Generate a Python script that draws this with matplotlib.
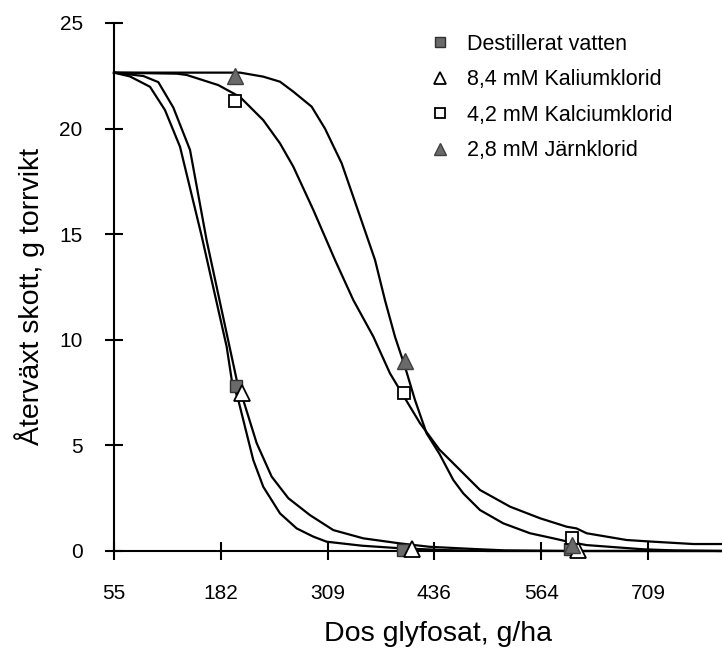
import matplotlib
matplotlib.use("Agg")
import matplotlib.pyplot as plt
from matplotlib.lines import Line2D
import numpy as np

plt.rcParams['font.family'] = ['Liberation Sans', 'DejaVu Sans']

# ---------------- data ----------------
x_tick_labels = ["55", "182", "309", "436", "564", "709"]
y_ticks = [0, 5, 10, 15, 20, 25]

series_names = ["Destillerat vatten", "8,4 mM Kaliumklorid",
                "4,2 mM Kalciumklorid", "2,8 mM Järnklorid"]

# observed points (dose g/ha, regrowth g)
dest_x = [200, 399, 597]
dest_y = [7.8, 0.05, 0.1]
kalium_x = [207, 409, 607]
kalium_y = [7.5, 0.1, 0.05]
kalcium_x = [199, 400, 600]
kalcium_y = [21.3, 7.5, 0.6]
jarn_x = [199, 401, 600]
jarn_y = [22.5, 9.0, 0.3]

# fitted curves
dest_cx = [55, 74, 97.8, 115.6, 133.5, 159.3, 189, 195, 202.8, 220.6, 232.5,
           252.4, 272.2, 292, 307.9, 350, 395, 450, 500, 778]
dest_cy = [22.65, 22.47, 21.98, 20.88, 19.14, 14.9, 9.67, 8.1, 7.15, 4.31, 3.04,
           1.78, 1.07, 0.68, 0.44, 0.25, 0.13, 0.04, 0.0, 0.0]

kalium_cx = [55, 89.9, 107.7, 125.5, 145.4, 165.2, 200.9, 208.7, 224.7, 242.5,
             262.3, 288, 315.8, 351.4, 395, 430, 480, 520, 600, 778]
kalium_cy = [22.65, 22.49, 22.2, 21.0, 18.99, 14.7, 8.1, 7.15, 5.1, 3.52,
             2.5, 1.7, 0.99, 0.6, 0.36, 0.2, 0.1, 0.03, 0.0, 0.0]

kalcium_cx = [55, 130, 141.4, 179, 204.8, 232.5, 252.4, 268.2, 292, 317.8, 339.6,
              363.4, 383.2, 401, 418.9, 442, 458.5, 490.2, 525.9, 561.6, 593.3,
              605, 617, 664.6, 696.3, 744, 778]
kalcium_cy = [22.65, 22.6, 22.54, 22.06, 21.5, 20.4, 19.3, 18.2, 16.15, 13.78, 11.88,
              10.15, 8.41, 7.23, 6.05, 4.8, 4.15, 2.89, 2.1, 1.55, 1.15,
              1.07, 0.84, 0.52, 0.44, 0.33, 0.33]

jarn_cx = [55, 205, 232.5, 252.4, 268.2, 290, 305.9, 325.7, 343.6, 365.4, 377.2,
           389.1, 401, 412.9, 426.7, 442, 458.5, 470.3, 490.2, 517.9, 549.7,
           577.4, 595, 617, 684.5, 720, 778]
jarn_cy = [22.65, 22.65, 22.46, 22.22, 21.75, 21.04, 20.0, 18.36, 16.3, 13.78, 11.88,
           10.15, 8.73, 7.15, 5.57, 4.6, 3.36, 2.73, 1.94, 1.31, 0.84,
           0.6, 0.44, 0.28, 0.08, 0.03, 0.0]

# ---------------- figure ----------------
W, H = 722, 648
fig = plt.figure(figsize=(W / 100, H / 100), dpi=100)
ax = fig.add_axes([114 / W, 1 - 551 / H, 1 - 114 / W, (551 - 23) / H])

lw = 1.6
for cx, cy in [(dest_cx, dest_cy), (kalium_cx, kalium_cy),
               (kalcium_cx, kalcium_cy), (jarn_cx, jarn_cy)]:
    ax.plot(cx, cy, color='black', lw=lw, clip_on=False, zorder=3)

gray = '#6a6a6a'
styles = [
    dict(marker='s', ms=9, mfc=gray, mec='#303030', mew=1.0),
    dict(marker='^', ms=11, mfc='white', mec='black', mew=1.3),
    dict(marker='s', ms=9, mfc='white', mec='black', mew=1.3),
    dict(marker='^', ms=11, mfc=gray, mec='#404040', mew=1.0),
]
pts = [(dest_x, dest_y), (kalium_x, kalium_y),
       (kalcium_x, kalcium_y), (jarn_x, jarn_y)]
for (px, py), st in zip(pts, styles):
    ax.plot(px, py, ls='none', clip_on=False, zorder=4, **st)

ax.set_xlim(55, 778)
ax.set_ylim(0, 25)

ax.set_xticks(55 + 127 * np.arange(len(x_tick_labels)))
ax.set_xticklabels(x_tick_labels)
ax.set_yticks(y_ticks)
ax.set_yticklabels([str(v) for v in y_ticks])

for s in ['top', 'right']:
    ax.spines[s].set_visible(False)
for s in ['left', 'bottom']:
    ax.spines[s].set_linewidth(1.5)

ax.tick_params(axis='both', direction='inout', length=13, width=1.5,
               labelsize=15, colors='black')
ax.tick_params(axis='y', pad=16)
ax.tick_params(axis='x', pad=17)

ax.set_xlabel("Dos glyfosat, g/ha", fontsize=20.5)
ax.set_ylabel("Återväxt skott, g torrvikt", fontsize=20.5)
ax.xaxis.set_label_coords((438 - 114) / 608, (551 - 621) / 528)
ax.yaxis.set_label_coords((45 - 114) / 608, (551 - 296) / 528)

handles = [Line2D([], [], ls='none', **st) for st in styles]
leg = ax.legend(handles, series_names, loc='upper left',
                bbox_to_anchor=((429 - 114) / 608, 1 - (34 - 23) / 528),
                frameon=False, fontsize=15.5, handlelength=1.0,
                handletextpad=0.75, labelspacing=0.67, borderaxespad=0,
                borderpad=0, markerscale=0.85)

fig.savefig("out.png", dpi=100)
